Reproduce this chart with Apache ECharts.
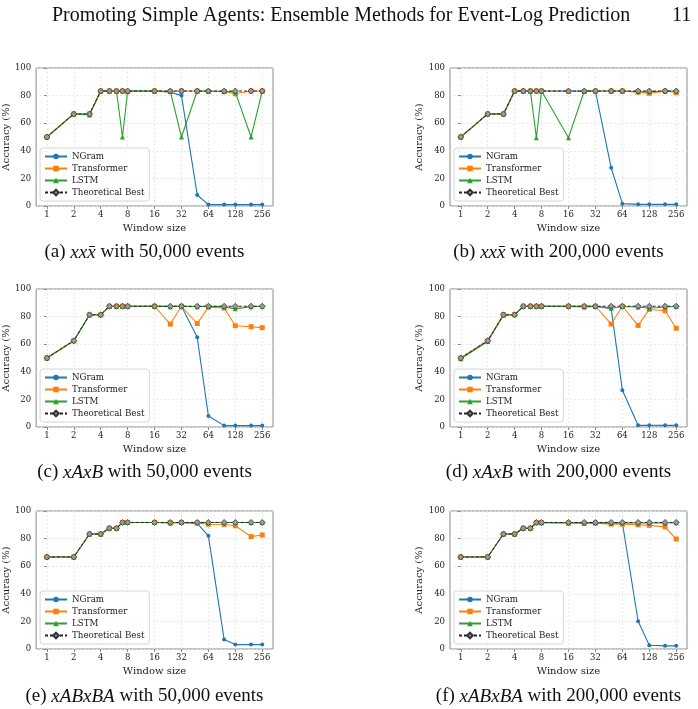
<!DOCTYPE html>
<html>
<head>
<meta charset="utf-8">
<title>Window size vs accuracy</title>
<script src="https://cdn.jsdelivr.net/npm/echarts@6/dist/echarts.min.js"></script>
<style>
  html, body { margin: 0; padding: 0; background: #fff; }
  #main { width: 698px; height: 709px; }
</style>
</head>
<body>
<div id="main"></div>
<script>
// window sizes on the x axis (log2 scale)
var windowSizes = [1, 2, 3, 4, 5, 6, 7, 8, 16, 24, 32, 48, 64, 96, 128, 192, 256];
var xTickLabels = [1, 2, 4, 8, 16, 32, 64, 128, 256];
var seriesNames = ['NGram', 'Transformer', 'LSTM', 'Theoretical Best'];

// (a) xxx̄, 50,000 events
var ngramA = [50, 66.7, 66.7, 83.3, 83.3, 83.3, 83.3, 83.3, 83.3, 82.5, 80, 8, 1, 1, 1, 1, 1];
var transformerA = [50, 66.7, 66.7, 83.3, 83.3, 83.3, 83.3, 82.8, 83.3, 83, 83.3, 83.3, 83, 83, 81.3, 83.3, 83.3];
var lstmA = [50, 66.7, 66, 83.3, 83.3, 83.3, 50, 83.3, 83.3, 83, 50, 83.3, 83.3, 83, 82.5, 50, 83.3];
var bestA = [50, 66.7, 66.7, 83.3, 83.3, 83.3, 83.3, 83.3, 83.3, 83.3, 83.3, 83.3, 83.3, 83.3, 83.3, 83.3, 83.3];

// (b) xxx̄, 200,000 events
var ngramB = [50, 66.7, 66.7, 83.3, 83.3, 83.3, 83.3, 83.3, 83.3, 83.3, 83.3, 27.7, 1.7, 1.2, 1.2, 1.2, 1.2];
var transformerB = [50, 66.7, 66.7, 83.3, 83.3, 83.3, 83.3, 83.3, 83, 83, 83.3, 83.3, 83.3, 82.5, 81.6, 83.3, 82.2];
var lstmB = [50, 66.7, 66.7, 83.3, 83.3, 83.3, 49.5, 83.3, 49.5, 83.3, 83.3, 83.3, 83.3, 82.8, 82.8, 83.3, 83.3];
var bestB = [50, 66.7, 66.7, 83.3, 83.3, 83.3, 83.3, 83.3, 83.3, 83.3, 83.3, 83.3, 83.3, 83.3, 83.3, 83.3, 83.3];

// (c) xAxB, 50,000 events
var ngramC = [50, 62.5, 81.3, 81.3, 87.5, 87.5, 87.5, 87.5, 87.5, 87.5, 87.5, 65, 8, 1, 1, 1, 1];
var transformerC = [50, 62.5, 81.3, 81.3, 87.5, 87.5, 87.5, 87.5, 87.5, 74.6, 87.5, 75, 86.9, 86.2, 73.4, 72.7, 72];
var lstmC = [50, 62.5, 81.3, 81.3, 87.5, 87.5, 87.5, 87.5, 87.5, 87.2, 87.5, 87.2, 87.5, 87.2, 85.6, 87.2, 87.5];
var bestC = [50, 62.5, 81.3, 81.3, 87.5, 87.5, 87.5, 87.5, 87.5, 87.5, 87.5, 87.5, 87.5, 87.5, 87.5, 87.5, 87.5];

// (d) xAxB, 200,000 events
var ngramD = [50, 62.5, 81.3, 81.3, 87.5, 87.5, 87.5, 87.5, 87.5, 87.5, 87.5, 85.8, 26.7, 1.2, 1.2, 1.2, 1.2];
var transformerD = [50, 62.5, 81.5, 81.5, 87.5, 87.5, 87.5, 87.5, 87.5, 87.5, 87.5, 74.6, 87.5, 73.6, 85.2, 84.2, 71.6];
var lstmD = [49.5, 62, 81, 81.3, 87.5, 87.5, 87.5, 87.5, 87.3, 87, 87.3, 86, 87.3, 87, 86, 87, 87.3];
var bestD = [50, 62.5, 81.3, 81.3, 87.5, 87.5, 87.5, 87.5, 87.5, 87.5, 87.5, 87.5, 87.5, 87.5, 87.5, 87.5, 87.5];

// (e) xABxBA, 50,000 events
var ngramE = [66.7, 66.7, 83.3, 83.3, 87.5, 87.5, 91.7, 91.7, 91.7, 91.7, 91.7, 91, 82, 6.8, 3.2, 3.2, 3.2];
var transformerE = [66.7, 66.7, 83.3, 83.3, 87.5, 87.5, 91.7, 91.7, 91.7, 91.5, 91.7, 91.3, 90.4, 90.2, 89.3, 81.4, 82.6];
var lstmE = [66.7, 66.7, 83.3, 83.3, 87.5, 87.5, 91.7, 91.7, 91.7, 91.3, 91.7, 91.5, 91.7, 91.7, 91.7, 91.7, 91.7];
var bestE = [66.7, 66.7, 83.3, 83.3, 87.5, 87.5, 91.7, 91.7, 91.7, 91.7, 91.7, 91.7, 91.7, 91.7, 91.7, 91.7, 91.7];

// (f) xABxBA, 200,000 events
var ngramF = [66.7, 66.7, 83.3, 83.3, 87.5, 87.5, 91.7, 91.7, 91.7, 91.5, 91.7, 91.5, 91.5, 20.1, 2.7, 2.3, 2.3];
var transformerF = [66.7, 66.7, 83.3, 83.3, 87.5, 87.5, 91.7, 91.5, 91.2, 91, 91.2, 90.5, 90.5, 90, 89.6, 88.5, 79.7];
var lstmF = [66.7, 66.7, 83.3, 83.3, 87.5, 87.5, 91.5, 91.5, 91.5, 91.3, 91.5, 91.3, 91.5, 91.3, 91.5, 91.3, 91.5];
var bestF = [66.7, 66.7, 83.3, 83.3, 87.5, 87.5, 91.7, 91.7, 91.7, 91.7, 91.7, 91.7, 91.7, 91.7, 91.7, 91.7, 91.7];

var panels = [
    {tag: '(a)', pattern: 'xxx\u0304', events: '50,000', data: [ngramA, transformerA, lstmA, bestA]},
    {tag: '(b)', pattern: 'xxx\u0304', events: '200,000', data: [ngramB, transformerB, lstmB, bestB]},
    {tag: '(c)', pattern: 'xAxB', events: '50,000', data: [ngramC, transformerC, lstmC, bestC]},
    {tag: '(d)', pattern: 'xAxB', events: '200,000', data: [ngramD, transformerD, lstmD, bestD]},
    {tag: '(e)', pattern: 'xABxBA', events: '50,000', data: [ngramE, transformerE, lstmE, bestE]},
    {tag: '(f)', pattern: 'xABxBA', events: '200,000', data: [ngramF, transformerF, lstmF, bestF]}
];

var chart = echarts.init(document.getElementById('main'), null, {renderer: 'canvas'});

var plotFont = 'DejaVu Serif';
var texFont = 'Liberation Serif';
var colLeft = [36, 450];
var rowTop = [68, 289, 511];
var plotW = 237;
var plotH = 138;
var captionY = [238, 458, 682];

var styles = [
    {color: '#1f77b4', symbol: 'circle', size: 4, dash: 'solid', width: 1.1},
    {color: '#ff7f0e', symbol: 'rect', size: 5, dash: 'solid', width: 1.1},
    {color: '#2ca02c', symbol: 'triangle', size: 5, dash: 'solid', width: 1.1},
    {color: '#222222', symbol: 'diamond', size: 6, dash: [3, 2], width: 1}
];

var grids = [], xAxes = [], yAxes = [], series = [], legends = [];
var titles = [
    {text: 'Promoting Simple Agents: Ensemble Methods for Event-Log Prediction', left: 47, top: 1,
     textStyle: {fontFamily: texFont, fontSize: 20, fontWeight: 'normal', color: '#111'}},
    {text: '11', left: 667, top: 1,
     textStyle: {fontFamily: texFont, fontSize: 20, fontWeight: 'normal', color: '#111'}}
];

panels.forEach(function (p, i) {
    var col = i % 2, row = Math.floor(i / 2);
    var left = colLeft[col], top = rowTop[row];
    grids.push({left: left, top: top, width: plotW, height: plotH, show: true,
        borderColor: '#8a8a8a', borderWidth: 1, backgroundColor: '#fff'});
    xAxes.push({
        type: 'value', gridIndex: i, min: -0.4, max: 8.4,
        name: 'Window size', nameLocation: 'middle', nameGap: 17,
        nameTextStyle: {fontFamily: plotFont, fontSize: 10, color: '#222'},
        axisLine: {show: false},
        axisTick: {show: true, length: 3, lineStyle: {color: '#8a8a8a'},
            customValues: xTickLabels.map(function (v) { return Math.log2(v); })},
        axisLabel: {fontFamily: plotFont, fontSize: 8.5, color: '#222', margin: 4,
            customValues: xTickLabels.map(function (v) { return Math.log2(v); }),
            formatter: function (v) { return String(Math.round(Math.pow(2, v))); }},
        splitLine: {show: true, lineStyle: {color: '#e2e2e2', type: [2, 2], width: 0.8}}
    });
    yAxes.push({
        type: 'value', gridIndex: i, min: 0, max: 100, interval: 20,
        name: 'Accuracy (%)', nameLocation: 'middle', nameGap: 25,
        nameTextStyle: {fontFamily: plotFont, fontSize: 10, color: '#222'},
        axisLine: {show: false},
        axisTick: {show: true, length: 3, lineStyle: {color: '#8a8a8a'}},
        axisLabel: {fontFamily: plotFont, fontSize: 8.5, color: '#222', margin: 5},
        splitLine: {show: true, lineStyle: {color: '#e2e2e2', type: [2, 2], width: 0.8}}
    });
    p.data.forEach(function (vals, k) {
        var s = styles[k];
        series.push({
            name: seriesNames[k], type: 'line', xAxisIndex: i, yAxisIndex: i,
            data: windowSizes.map(function (w, j) { return [Math.log2(w), vals[j]]; }),
            symbol: s.symbol, symbolSize: s.size, showSymbol: true,
            lineStyle: {color: s.color, width: s.width, type: s.dash},
            itemStyle: k === 3 ? {color: '#9a9a9a', borderColor: '#333', borderWidth: 0.8}
                               : {color: s.color},
            z: 2 + k, animation: false
        });
    });
    legends.push({
        show: true, orient: 'vertical',
        left: left + 4, bottom: 709 - (top + plotH - 5),
        data: seriesNames.map(function (n) { return {name: n}; }),
        itemWidth: 22, itemHeight: 7, itemGap: 3,
        padding: [4, 5, 4, 4],
        backgroundColor: 'rgba(255,255,255,0.85)',
        borderColor: '#d6d6d6', borderWidth: 1, borderRadius: 3,
        textStyle: {fontFamily: plotFont, fontSize: 8.7, color: '#222', padding: [0, 0, 0, 0]},
        selectedMode: false
    });
    titles.push({
        text: p.tag + ' {m|' + p.pattern + '} with ' + p.events + ' events',
        left: left + plotW / 2 - 15, top: captionY[row], textAlign: 'center',
        textStyle: {fontFamily: texFont, fontSize: 19, fontWeight: 'normal', color: '#111',
            rich: {m: {fontFamily: texFont, fontStyle: 'italic', fontSize: 19, color: '#111'}}}
    });
});

chart.setOption({
    animation: false,
    backgroundColor: '#fff',
    title: titles,
    grid: grids,
    xAxis: xAxes,
    yAxis: yAxes,
    legend: legends,
    series: series
});
</script>
</body>
</html>
